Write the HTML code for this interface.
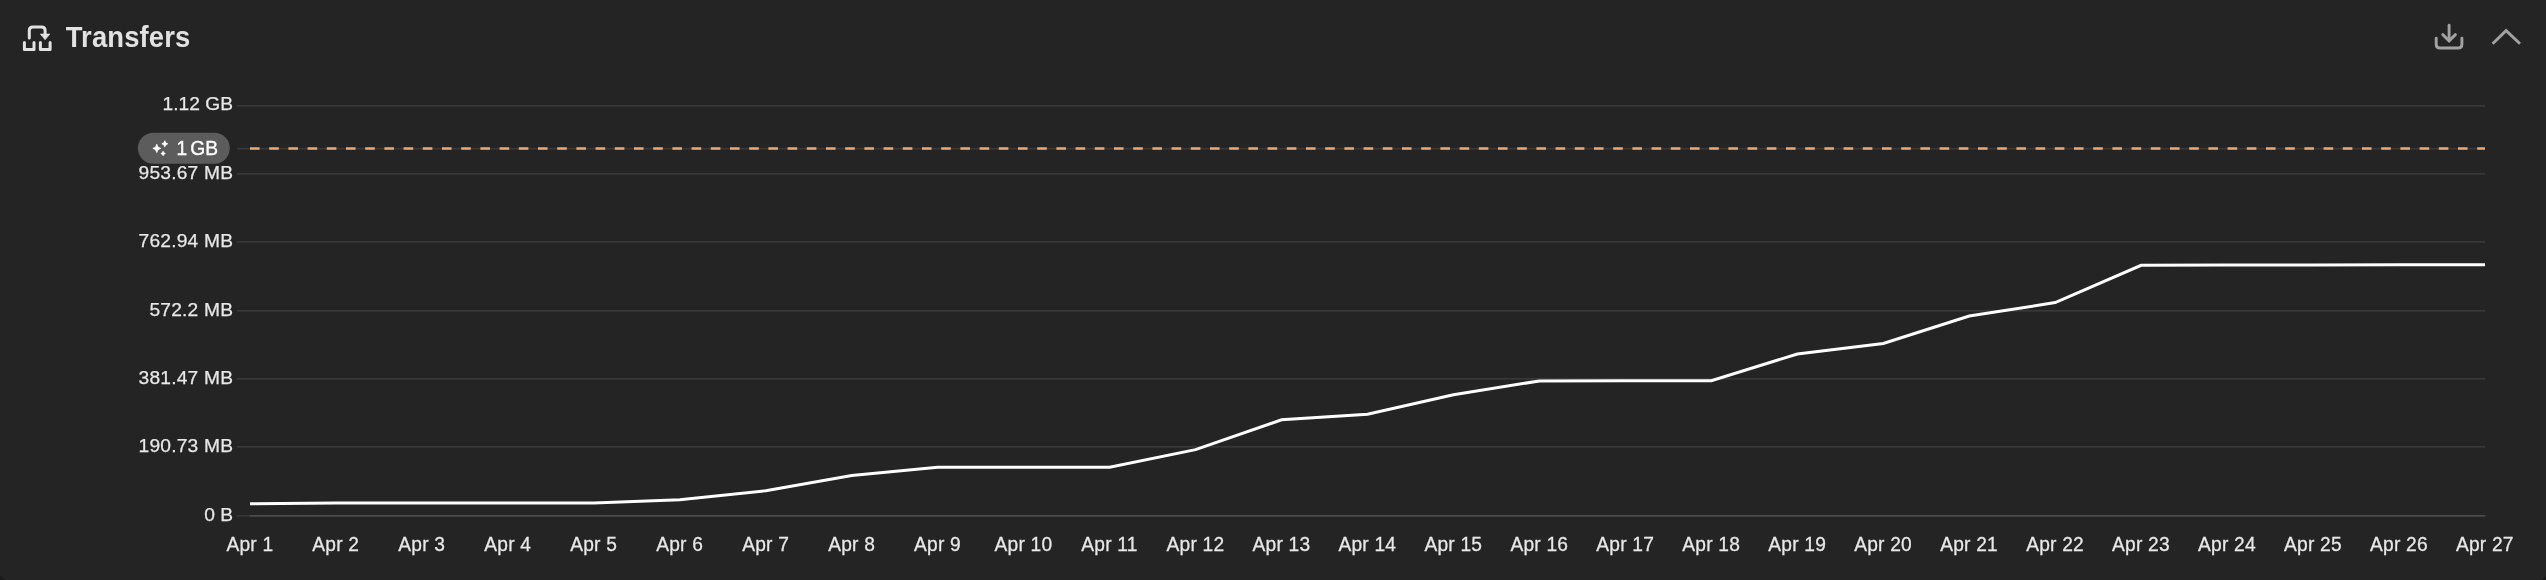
<!DOCTYPE html>
<html><head><meta charset="utf-8"><title>Transfers</title>
<style>
html,body{margin:0;padding:0;background:#191919;width:2546px;height:580px;overflow:hidden}
.card{position:absolute;left:-3px;top:-30px;width:2553px;height:613.5px;background:#242424;border-radius:20px}
svg{position:absolute;left:0;top:0;will-change:transform}
svg text{font-family:"Liberation Sans", Arial, sans-serif;font-size:19.2px;fill:#e8e8e8;stroke:#e8e8e8;stroke-width:0.25px}
svg text.ttl{font-weight:700;font-size:27.4px;fill:#e2e2e2;stroke:none;letter-spacing:0.15px}
</style></head>
<body>
<div class="card"></div>
<svg width="2546" height="580" viewBox="0 0 2546 580">

<path d="M29.3,38.1 V30.6 Q29.3,27 32.9,27 H41.5 Q45.1,27 45.1,30.6 V35" fill="none" stroke="#e2e2e2" stroke-width="3" stroke-linecap="round"/>
<path d="M40.3,34 L49.9,34 L45.1,39.8 Z" fill="#e2e2e2" stroke="#e2e2e2" stroke-width="0.6" stroke-linejoin="round"/>
<path d="M24.4,42.6 V49.5 H34 V42.6" fill="none" stroke="#e2e2e2" stroke-width="3" stroke-linecap="round" stroke-linejoin="round"/>
<path d="M40.4,42.6 V49.5 H50.1 V42.6" fill="none" stroke="#e2e2e2" stroke-width="3" stroke-linecap="round" stroke-linejoin="round"/>


<path d="M2436.2,38.3 V44.2 Q2436.2,48 2440,48 H2458.1 Q2461.9,48 2461.9,44.2 V38.3" fill="none" stroke="#a2a2a2" stroke-width="2.9" stroke-linecap="round"/>
<path d="M2449.1,25.3 V40.5" fill="none" stroke="#a2a2a2" stroke-width="2.9" stroke-linecap="round"/>
<path d="M2442.8,34.6 L2449.1,40.9 L2455.4,34.6" fill="none" stroke="#a2a2a2" stroke-width="2.9" stroke-linecap="round" stroke-linejoin="miter"/>


<path d="M2492.6,43.7 L2506.1,30.6 L2520,43.7" fill="none" stroke="#a2a2a2" stroke-width="2.9" stroke-linecap="butt" stroke-linejoin="miter"/>

<rect x="237" y="515.00" width="2248" height="1.6" fill="#393939"/>
<rect x="237" y="446.00" width="2248" height="1.6" fill="#393939"/>
<rect x="237" y="378.00" width="2248" height="1.6" fill="#393939"/>
<rect x="237" y="310.00" width="2248" height="1.6" fill="#393939"/>
<rect x="237" y="241.00" width="2248" height="1.6" fill="#393939"/>
<rect x="237" y="173.00" width="2248" height="1.6" fill="#393939"/>
<rect x="237" y="105.00" width="2248" height="1.6" fill="#393939"/>
<rect x="250" y="515.00" width="2235.6" height="1.6" fill="#4b4b4b"/>
<rect x="237" y="147.9" width="2248" height="1.6" fill="#393939"/>
<text x="233.0" y="521.37" text-anchor="end" transform="translate(0,521.37) scale(1,1.0) translate(0,-521.37)">0 B</text>
<text x="233.2" y="452.32" text-anchor="end" style="letter-spacing:0.2px" transform="translate(0,452.32) scale(1,1.0) translate(0,-452.32)">190.73 MB</text>
<text x="233.2" y="384.37" text-anchor="end" style="letter-spacing:0.2px" transform="translate(0,384.37) scale(1,1.0) translate(0,-384.37)">381.47 MB</text>
<text x="233.2" y="316.37" text-anchor="end" style="letter-spacing:0.2px" transform="translate(0,316.37) scale(1,1.0) translate(0,-316.37)">572.2 MB</text>
<text x="233.2" y="247.37" text-anchor="end" style="letter-spacing:0.2px" transform="translate(0,247.37) scale(1,1.0) translate(0,-247.37)">762.94 MB</text>
<text x="233.2" y="179.37" text-anchor="end" style="letter-spacing:0.2px" transform="translate(0,179.37) scale(1,1.0) translate(0,-179.37)">953.67 MB</text>
<text x="233.0" y="110.42" text-anchor="end" transform="translate(0,110.42) scale(1,1.0) translate(0,-110.42)">1.12 GB</text>
<text x="249.85" y="550.7" text-anchor="middle" style="letter-spacing:0.2px" transform="translate(0,550.70) scale(1,1.03) translate(0,-550.70)">Apr 1</text>
<text x="335.81" y="550.7" text-anchor="middle" style="letter-spacing:0.2px" transform="translate(0,550.70) scale(1,1.03) translate(0,-550.70)">Apr 2</text>
<text x="421.77" y="550.7" text-anchor="middle" style="letter-spacing:0.2px" transform="translate(0,550.70) scale(1,1.03) translate(0,-550.70)">Apr 3</text>
<text x="507.73" y="550.7" text-anchor="middle" style="letter-spacing:0.2px" transform="translate(0,550.70) scale(1,1.03) translate(0,-550.70)">Apr 4</text>
<text x="593.70" y="550.7" text-anchor="middle" style="letter-spacing:0.2px" transform="translate(0,550.70) scale(1,1.03) translate(0,-550.70)">Apr 5</text>
<text x="679.66" y="550.7" text-anchor="middle" style="letter-spacing:0.2px" transform="translate(0,550.70) scale(1,1.03) translate(0,-550.70)">Apr 6</text>
<text x="765.62" y="550.7" text-anchor="middle" style="letter-spacing:0.2px" transform="translate(0,550.70) scale(1,1.03) translate(0,-550.70)">Apr 7</text>
<text x="851.58" y="550.7" text-anchor="middle" style="letter-spacing:0.2px" transform="translate(0,550.70) scale(1,1.03) translate(0,-550.70)">Apr 8</text>
<text x="937.54" y="550.7" text-anchor="middle" style="letter-spacing:0.2px" transform="translate(0,550.70) scale(1,1.03) translate(0,-550.70)">Apr 9</text>
<text x="1023.50" y="550.7" text-anchor="middle" style="letter-spacing:0.2px" transform="translate(0,550.70) scale(1,1.03) translate(0,-550.70)">Apr 10</text>
<text x="1109.47" y="550.7" text-anchor="middle" style="letter-spacing:0.2px" transform="translate(0,550.70) scale(1,1.03) translate(0,-550.70)">Apr 11</text>
<text x="1195.43" y="550.7" text-anchor="middle" style="letter-spacing:0.2px" transform="translate(0,550.70) scale(1,1.03) translate(0,-550.70)">Apr 12</text>
<text x="1281.39" y="550.7" text-anchor="middle" style="letter-spacing:0.2px" transform="translate(0,550.70) scale(1,1.03) translate(0,-550.70)">Apr 13</text>
<text x="1367.35" y="550.7" text-anchor="middle" style="letter-spacing:0.2px" transform="translate(0,550.70) scale(1,1.03) translate(0,-550.70)">Apr 14</text>
<text x="1453.31" y="550.7" text-anchor="middle" style="letter-spacing:0.2px" transform="translate(0,550.70) scale(1,1.03) translate(0,-550.70)">Apr 15</text>
<text x="1539.27" y="550.7" text-anchor="middle" style="letter-spacing:0.2px" transform="translate(0,550.70) scale(1,1.03) translate(0,-550.70)">Apr 16</text>
<text x="1625.23" y="550.7" text-anchor="middle" style="letter-spacing:0.2px" transform="translate(0,550.70) scale(1,1.03) translate(0,-550.70)">Apr 17</text>
<text x="1711.20" y="550.7" text-anchor="middle" style="letter-spacing:0.2px" transform="translate(0,550.70) scale(1,1.03) translate(0,-550.70)">Apr 18</text>
<text x="1797.16" y="550.7" text-anchor="middle" style="letter-spacing:0.2px" transform="translate(0,550.70) scale(1,1.03) translate(0,-550.70)">Apr 19</text>
<text x="1883.12" y="550.7" text-anchor="middle" style="letter-spacing:0.2px" transform="translate(0,550.70) scale(1,1.03) translate(0,-550.70)">Apr 20</text>
<text x="1969.08" y="550.7" text-anchor="middle" style="letter-spacing:0.2px" transform="translate(0,550.70) scale(1,1.03) translate(0,-550.70)">Apr 21</text>
<text x="2055.04" y="550.7" text-anchor="middle" style="letter-spacing:0.2px" transform="translate(0,550.70) scale(1,1.03) translate(0,-550.70)">Apr 22</text>
<text x="2141.00" y="550.7" text-anchor="middle" style="letter-spacing:0.2px" transform="translate(0,550.70) scale(1,1.03) translate(0,-550.70)">Apr 23</text>
<text x="2226.97" y="550.7" text-anchor="middle" style="letter-spacing:0.2px" transform="translate(0,550.70) scale(1,1.03) translate(0,-550.70)">Apr 24</text>
<text x="2312.93" y="550.7" text-anchor="middle" style="letter-spacing:0.2px" transform="translate(0,550.70) scale(1,1.03) translate(0,-550.70)">Apr 25</text>
<text x="2398.89" y="550.7" text-anchor="middle" style="letter-spacing:0.2px" transform="translate(0,550.70) scale(1,1.03) translate(0,-550.70)">Apr 26</text>
<text x="2484.85" y="550.7" text-anchor="middle" style="letter-spacing:0.2px" transform="translate(0,550.70) scale(1,1.03) translate(0,-550.70)">Apr 27</text>
<line x1="250" y1="148.5" x2="2485" y2="148.5" stroke="#ecaa72" stroke-width="2.6" stroke-dasharray="9.6 9.6"/>
<polyline points="250.00,503.85 335.96,503.10 421.92,503.00 507.88,503.00 593.85,502.90 679.81,499.70 765.77,490.70 851.73,475.50 937.69,467.20 1023.65,467.20 1109.62,467.20 1195.58,449.60 1281.54,419.80 1367.50,414.20 1453.46,394.80 1539.42,380.90 1625.38,380.80 1711.35,380.80 1797.31,354.00 1883.27,343.50 1969.23,316.00 2055.19,302.60 2141.15,265.30 2227.12,265.00 2313.08,264.90 2399.04,264.80 2485.00,264.70" fill="none" stroke="#ffffff" stroke-width="3" stroke-linejoin="miter" stroke-linecap="butt"/>
<rect x="137.9" y="132.75" width="91.9" height="31" rx="15.5" fill="#5c5c5c"/>
<text x="176.6" y="154.6" style="fill:#ffffff;stroke:#ffffff;stroke-width:0.35px" transform="translate(0,154.60) scale(1,1.07) translate(0,-154.60)">1<tspan dx="-2.4"> GB</tspan></text>
<path d="M156.8,144.3 Q157.19,147.99 160.70000000000002,148.4 Q157.19,148.81 156.8,152.5 Q156.41000000000003,148.81 152.9,148.4 Q156.41000000000003,147.99 156.8,144.3 ZM164.8,140.75 Q165.095,143.495 167.75,143.8 Q165.095,144.10500000000002 164.8,146.85000000000002 Q164.50500000000002,144.10500000000002 161.85000000000002,143.8 Q164.50500000000002,143.495 164.8,140.75 ZM163.1,151.3 Q163.32,153.28 165.29999999999998,153.5 Q163.32,153.72 163.1,155.7 Q162.88,153.72 160.9,153.5 Q162.88,153.28 163.1,151.3 Z" fill="#ffffff" stroke="#ffffff" stroke-width="0.9" stroke-linejoin="round"/>
<text x="65.75" y="46.8" class="ttl" transform="translate(0,46.8) scale(1,1.045) translate(0,-46.8)">Transfers</text>
</svg>
</body></html>
